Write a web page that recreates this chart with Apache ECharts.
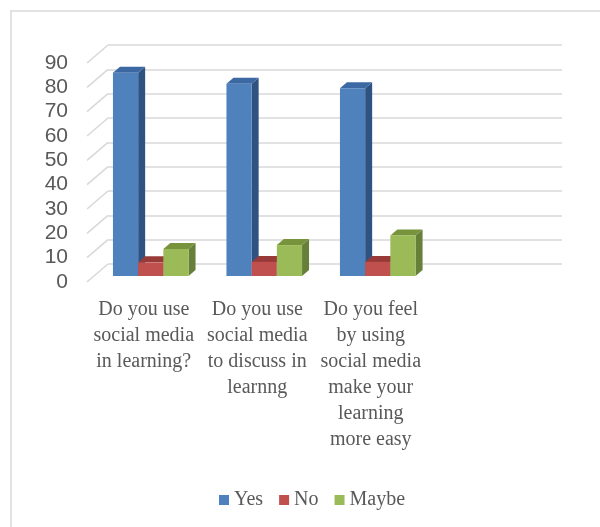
<!DOCTYPE html>
<html>
<head>
<meta charset="utf-8">
<script src="https://cdn.jsdelivr.net/npm/echarts@6/dist/echarts.min.js"></script>
<style>
  html, body { margin: 0; padding: 0; background: #fff; }
  #chart { width: 600px; height: 527px; }
</style>
</head>
<body>
<div id="chart"></div>
<script>
// Survey questions (the last slot is an empty category on the axis)
const categories = [
  'Do you use\nsocial media\nin learning?',
  'Do you use\nsocial media\nto discuss in\nlearnng',
  'Do you feel\nby using\nsocial media\nmake your\nlearning\nmore easy',
  ''
];
const seriesNames = ['Yes', 'No', 'Maybe'];
const yesValues = [83.5, 79, 77.2];
const noValues = [5.6, 5.8, 5.8];
const maybeValues = [11.1, 12.7, 16.6];
const yMin = 0;
const yMax = 90;
const yInterval = 10;
const yTicks = [0, 10, 20, 30, 40, 50, 60, 70, 80, 90];

// 3D look: offsets of the floor depth and of each bar's depth
const WALL_DX = 21, WALL_DY = 18;
const BAR_DX = 7, BAR_DY = 6;

const palette = [
  { front: '#4f81bd', side: '#2f5381', top: '#3c69a3' },
  { front: '#c0504d', side: '#8c3533', top: '#983b38' },
  { front: '#9bbb59', side: '#66803a', top: '#77933c' }
];
const valueSets = [yesValues, noValues, maybeValues];

const textColor = '#595959';
const gridColor = '#d9d9d9';

function barSeries(k) {
  return {
    name: seriesNames[k],
    type: 'custom',
    xAxisIndex: 0,
    yAxisIndex: 0,
    itemStyle: { color: palette[k].front },
    data: valueSets[k].map((v, i) => [i, v]),
    renderItem: function (params, api) {
      const idx = api.value(0);
      const val = api.value(1);
      const base = api.coord([idx, 0]);
      const top = api.coord([idx, val]);
      const band = api.size([1, 0])[0];
      const w = band * 0.222;
      const x0 = base[0] + (k - 1.5) * w;
      const x1 = x0 + w;
      const yT = top[1], yB = base[1];
      const c = palette[k];
      return {
        type: 'group',
        children: [
          {
            type: 'polygon',
            shape: { points: [[x1, yT], [x1 + BAR_DX, yT - BAR_DY], [x1 + BAR_DX, yB - BAR_DY], [x1, yB]] },
            style: { fill: c.side }
          },
          {
            type: 'polygon',
            shape: { points: [[x0, yT], [x0 + BAR_DX, yT - BAR_DY], [x1 + BAR_DX, yT - BAR_DY], [x1, yT]] },
            style: { fill: c.top }
          },
          {
            type: 'rect',
            shape: { x: x0, y: yT, width: w, height: yB - yT },
            style: { fill: c.front }
          }
        ]
      };
    }
  };
}

const hiddenCat = (gi) => ({
  type: 'category', gridIndex: gi, data: categories, show: false, boundaryGap: true
});
const valueAxisBase = (gi) => ({
  type: 'value', gridIndex: gi, min: yMin, max: yMax, interval: yInterval
});

const chart = echarts.init(document.getElementById('chart'), null, { renderer: 'canvas' });

chart.setOption({
  backgroundColor: '#ffffff',
  animation: false,
  graphic: [{
    type: 'rect',
    shape: { x: 11, y: 11, width: 640, height: 620 },
    style: { fill: 'none', stroke: '#d9d9d9', lineWidth: 1.5 },
    silent: true
  }],
  grid: [
    // bar plane
    { left: 94, top: 57, width: 454, height: 219 },
    // front plane (axis labels)
    { left: 87, top: 63, width: 454, height: 219 },
    // back wall (grid lines)
    { left: 108, top: 45, width: 454, height: 219 }
  ],
  xAxis: [
    hiddenCat(0),
    {
      type: 'category', gridIndex: 1, data: categories, boundaryGap: true,
      axisLine: { show: false }, axisTick: { show: false },
      axisLabel: {
        interval: 0, margin: 15, color: textColor,
        fontFamily: '"Liberation Serif", "Times New Roman", serif',
        fontSize: 20, lineHeight: 26, align: 'center'
      }
    },
    hiddenCat(2)
  ],
  yAxis: [
    Object.assign(valueAxisBase(0), { show: false }),
    Object.assign(valueAxisBase(1), {
      axisLine: { show: false }, axisTick: { show: false },
      splitLine: { show: false },
      axisLabel: {
        margin: 19, color: textColor,
        fontFamily: '"Liberation Sans", Arial, sans-serif', fontSize: 21
      }
    }),
    Object.assign(valueAxisBase(2), {
      axisLine: { show: false }, axisTick: { show: false },
      axisLabel: { show: false },
      splitLine: { show: true, lineStyle: { color: gridColor, width: 1.6 } }
    })
  ],
  legend: {
    data: seriesNames,
    left: 214,
    top: 485,
    icon: 'rect',
    itemWidth: 10,
    itemHeight: 10,
    itemGap: 16,
    textStyle: {
      color: textColor, fontSize: 20,
      fontFamily: '"Liberation Serif", "Times New Roman", serif'
    }
  },
  series: [
    {
      // side wall lines joining the front plane to the back wall
      name: 'wall',
      type: 'custom',
      xAxisIndex: 2,
      yAxisIndex: 2,
      silent: true,
      data: yTicks.map(v => [0, v]),
      renderItem: function (params, api) {
        const p = api.coord([0, api.value(1)]);
        const left = p[0] - api.size([1, 0])[0] / 2;
        return {
          type: 'line',
          shape: { x1: left - WALL_DX, y1: p[1] + WALL_DY, x2: left, y2: p[1] },
          style: { stroke: gridColor, lineWidth: 1.6 }
        };
      }
    },
    barSeries(0),
    barSeries(1),
    barSeries(2)
  ]
});
</script>
</body>
</html>
